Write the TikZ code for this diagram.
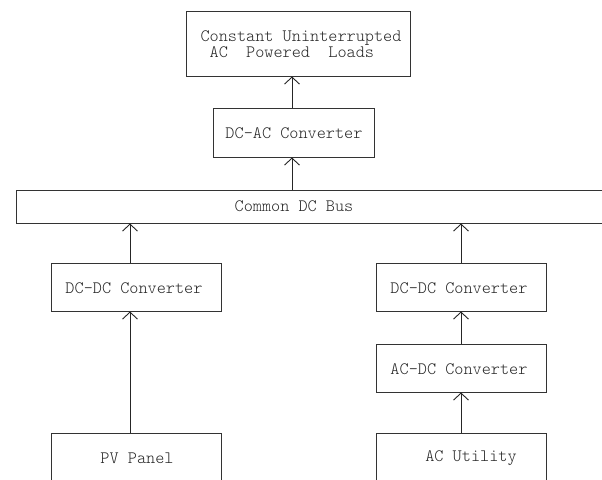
\documentclass[tikz,border=0pt]{standalone}
\usepackage{fontspec}
\setmonofont{Latin Modern Mono Light}
\usetikzlibrary{arrows.meta,calc}
\begin{document}
\begin{tikzpicture}[x=1pt,y=-1pt,
  blk/.style={draw=black!80,line width=1pt,rectangle,inner sep=0pt},
  lbl/.style={font=\ttfamily\fontsize{17.4}{16}\selectfont,text=black!85,inner sep=0pt,align=left},
  flow/.style={draw=black!85,line width=1pt,-{Straight Barb[length=7pt,width=15pt,line width=0.9pt]}}]
  \useasboundingbox (0,0) rectangle (602,479);
  \begin{scope}
    \clip (0,0) rectangle (602,479);
    % box outlines
    \node[blk,minimum width=224pt,minimum height=65pt] (loads) at (298,43.5) {};
    \node[blk,minimum width=161pt,minimum height=49pt] (dcac) at (293.5,132.5) {};
    \node[blk,minimum width=594pt,minimum height=33pt] (bus) at (313,206.5) {};
    \node[blk,minimum width=170pt,minimum height=48pt] (dcdcL) at (136,287) {};
    \node[blk,minimum width=170pt,minimum height=57pt] (pv) at (136,461.5) {};
    \node[blk,minimum width=170pt,minimum height=48pt] (dcdcR) at (461,287) {};
    \node[blk,minimum width=170pt,minimum height=48pt] (acdc) at (461,368) {};
    \node[blk,minimum width=170pt,minimum height=57pt] (acu) at (461,461.5) {};
  \end{scope}
  % labels
  \node[lbl] (tloads) at (301,44) {Constant Uninterrupted\\\ AC\ \ Powered\ \ Loads};
  \node[lbl] (tdcac) at (294,133) {DC-AC Converter};
  \node[lbl] (tbus) at (294,206) {Common DC Bus};
  \node[lbl] (tdcdcL) at (134,288) {DC-DC Converter};
  \node[lbl] (tpv) at (137,458) {PV Panel};
  \node[lbl] (tdcdcR) at (459,288) {DC-DC Converter};
  \node[lbl] (tacdc) at (459,369) {AC-DC Converter};
  \node[lbl] (tacu) at (471,458) {AC Utility};
  % power flow connectors
  \draw[flow] (dcac.north -| 292,0) -- (loads.south -| 292,0);
  \draw[flow] (bus.north -| 292,0) -- (dcac.south -| 292,0);
  \draw[flow] (pv.north -| 130,0) -- (dcdcL.south -| 130,0);
  \draw[flow] (dcdcL.north -| 130,0) -- (bus.south -| 130,0);
  \draw[flow] (acu.north) -- (acdc.south);
  \draw[flow] (acdc.north) -- (dcdcR.south);
  \draw[flow] (dcdcR.north) -- (bus.south -| dcdcR.north);
\end{tikzpicture}
\end{document}
